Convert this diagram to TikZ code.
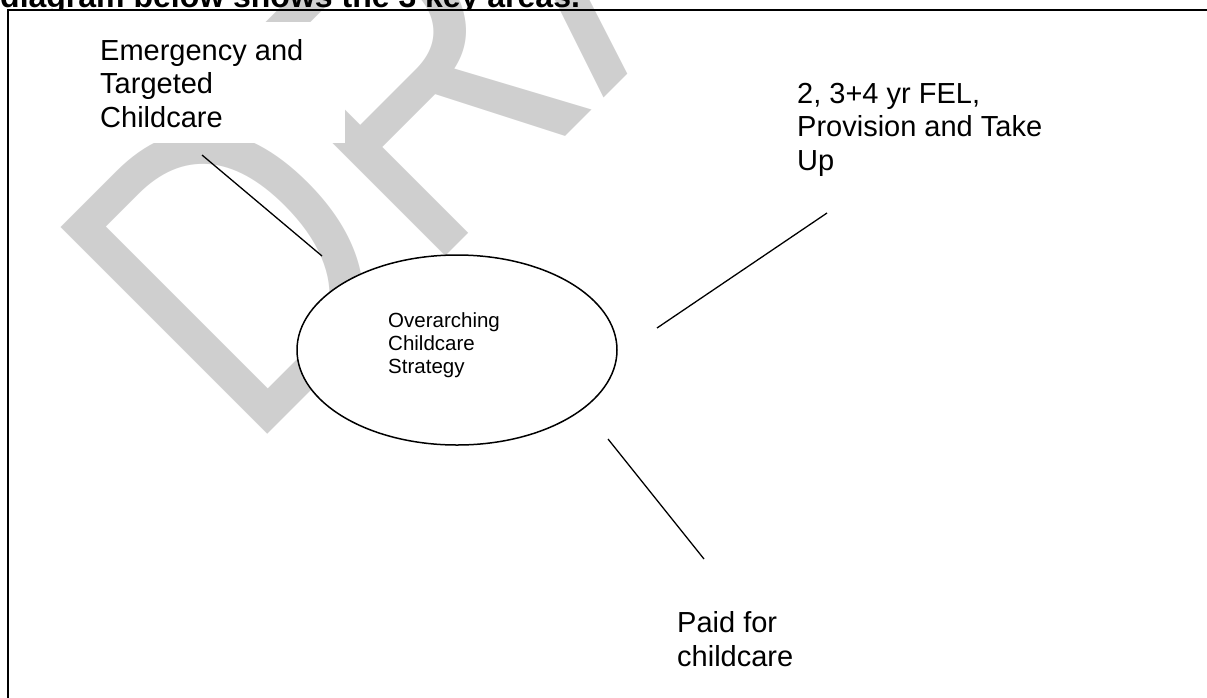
\documentclass[tikz,border=0pt]{standalone}
\usepackage{fontspec}
\setmainfont{Liberation Sans}
\usetikzlibrary{shapes.geometric, positioning}

\begin{document}
\begin{tikzpicture}[
  x=1pt, y=-1pt,
  txt/.style={align=left, anchor=base west, inner sep=0pt,
              font=\fontsize{29}{33.5}\selectfont},
  hub/.style={draw, ellipse, line width=1.5pt, fill=white,
              minimum width=320pt, minimum height=190pt, inner sep=0pt},
  ln/.style={line width=1.3pt}
]
\useasboundingbox (0,0) rectangle (1207,697);
\clip (0,0) rectangle (1207,697);

% watermark
\node[rotate=45, xscale=0.82, anchor=base west, inner sep=0pt, text=black!19,
      font=\fontsize{425}{425}\selectfont] (mark) at (247.5,454.5) {DRAFT};

% heading, cut off at the top
\begin{scope}
  \clip (0,0) rectangle (1207,9);
  \node[anchor=base west, inner sep=0pt,
        font=\bfseries\fontsize{32}{36}\selectfont] (head) at (0,7)
        {diagram below shows the 3 key areas.};
\end{scope}

\fill[white] (8,22) rectangle (345,143);
\draw[line width=2.2pt] (1210,10) -- (8,10) -- (8,700);

\node[hub] (core) at (457,350) {};
% base anchor sits on the last line
\node[txt, font=\fontsize{20.5}{23}\selectfont] (coretxt) at (388,373)
      {Overarching\\Childcare\\Strategy};

\node[txt] (emerg) at (100,127) {Emergency and\\Targeted\\Childcare};
\node[txt] (fel)   at (797,170) {2, 3+4 yr FEL,\\Provision and Take\\Up};
\node[txt] (paid)  at (677,666) {Paid for\\childcare};

\coordinate (emerg-a) at (202,155);
\coordinate (emerg-b) at (322,256);
\coordinate (fel-a)   at (657,328);
\coordinate (fel-b)   at (827,213);
\coordinate (paid-a)  at (608,439);
\coordinate (paid-b)  at (704,559);

\draw[ln] (emerg-a) -- (emerg-b);
\draw[ln] (fel-a) -- (fel-b);
\draw[ln] (paid-a) -- (paid-b);
\end{tikzpicture}
\end{document}
